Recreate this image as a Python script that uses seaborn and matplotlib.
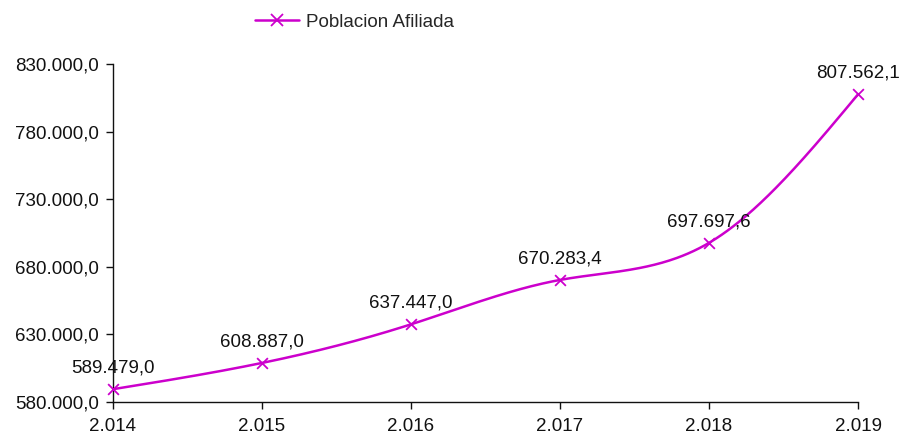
import numpy as np
import matplotlib
matplotlib.use("Agg")
import matplotlib.pyplot as plt
import seaborn as sns
from matplotlib.lines import Line2D
from matplotlib.ticker import FuncFormatter

years = [2014, 2015, 2016, 2017, 2018, 2019]
poblacion = [589479.0, 608887.0, 637447.0, 670283.4, 697697.6, 807562.1]
series_name = "Poblacion Afiliada"
color = "#CC00CC"


def fmt_es(v, decimals=1):
    s = f"{v:,.{decimals}f}"
    return s.replace(",", "X").replace(".", ",").replace("X", ".")


def natural_spline(x, y, n=400):
    x = np.asarray(x, float)
    y = np.asarray(y, float)
    k = len(x)
    h = np.diff(x)
    A = np.zeros((k, k))
    b = np.zeros(k)
    A[0, 0] = A[-1, -1] = 1
    for i in range(1, k - 1):
        A[i, i - 1] = h[i - 1]
        A[i, i] = 2 * (h[i - 1] + h[i])
        A[i, i + 1] = h[i]
        b[i] = 3 * ((y[i + 1] - y[i]) / h[i] - (y[i] - y[i - 1]) / h[i - 1])
    c = np.linalg.solve(A, b)
    xs = np.linspace(x[0], x[-1], n)
    ys = np.empty_like(xs)
    for j, xv in enumerate(xs):
        i = min(np.searchsorted(x, xv, side="right") - 1, k - 2)
        d = (c[i + 1] - c[i]) / (3 * h[i])
        bb = (y[i + 1] - y[i]) / h[i] - h[i] * (2 * c[i] + c[i + 1]) / 3
        t = xv - x[i]
        ys[j] = y[i] + bb * t + c[i] * t ** 2 + d * t ** 3
    return xs, ys


sns.set_style("ticks")
plt.rcParams["font.family"] = ["Liberation Sans", "DejaVu Sans"]
FS = 13.5

fig = plt.figure(figsize=(9.02, 4.34), dpi=100)
ax = fig.add_axes([113 / 902, 32 / 434, 745 / 902, 338 / 434])

xs, ys = natural_spline(years, poblacion)
sns.lineplot(x=xs, y=ys, ax=ax, color=color, linewidth=1.8, estimator=None)
ax.scatter(years, poblacion, marker="x", s=60, color=color, linewidths=1.3,
           zorder=3, clip_on=False)

for x, y in zip(years, poblacion):
    ax.annotate(fmt_es(y), (x, y), xytext=(0, 21), textcoords="offset pixels",
                ha="center", va="center", fontsize=FS, color="#111111")

ax.set_xlim(2014, 2019)
ax.set_ylim(580000, 830000)
ax.set_yticks(np.arange(580000, 830001, 50000))
ax.set_xticks(years)
ax.yaxis.set_major_formatter(FuncFormatter(lambda v, p: fmt_es(v)))
ax.xaxis.set_major_formatter(FuncFormatter(lambda v, p: fmt_es(v, 0)))
ax.tick_params(axis="both", labelsize=FS, length=5, width=1, colors="#111111",
               direction="out")
ax.tick_params(axis="y", pad=5)
ax.tick_params(axis="x", pad=6.5)
for side in ["top", "right"]:
    ax.spines[side].set_visible(False)
for side in ["left", "bottom"]:
    ax.spines[side].set_color("#111111")
    ax.spines[side].set_linewidth(1)

handle = Line2D([], [], color=color, marker="x", markersize=9, linewidth=1.8,
                markeredgewidth=1.3)
fig.legend([handle], [series_name], loc="center left",
           bbox_to_anchor=(238 / 902, 1 - 22 / 434), frameon=False,
           fontsize=FS, handlelength=2.35, handletextpad=0.4)

fig.savefig("out.png", dpi=100)
